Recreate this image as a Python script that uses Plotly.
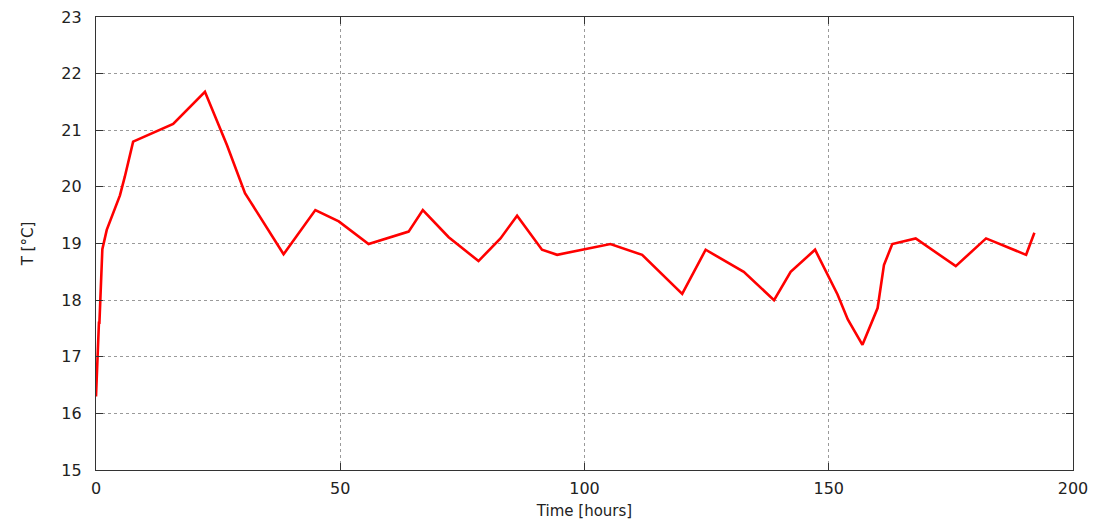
import plotly.graph_objects as go

# Temperature record: elapsed time (hours) and measured temperature (°C)
time_h = [0.0, 0.1, 0.15, 0.4, 0.45, 0.6, 0.7, 0.9, 1.0, 1.15, 1.3, 2.2, 3.5, 4.9, 5.9,
          7.6, 15.8, 22.3, 26.8, 30.5, 31.6, 38.4, 44.9, 49.7, 55.8, 64.0, 66.9,
          72.2, 78.3, 82.8, 86.2, 91.3, 94.4, 105.3, 111.8, 120.0, 124.8, 132.6,
          138.8, 142.2, 147.2, 151.8, 153.9, 156.9, 160.0, 161.3, 163.0, 167.8,
          176.0, 182.2, 190.4, 192.1]
temp_c = [16.3, 16.55, 16.6, 17.1, 17.1, 17.6, 17.6, 18.1, 18.1, 18.6, 18.9, 19.24, 19.54, 19.85, 20.18,
          20.8, 21.11, 21.68, 20.74, 19.89, 19.74, 18.81, 19.59, 19.39, 18.99, 19.21, 19.59,
          19.11, 18.69, 19.09, 19.49, 18.89, 18.8, 18.99, 18.8, 18.11, 18.89, 18.5,
          18.0, 18.5, 18.89, 18.1, 17.66, 17.21, 17.86, 18.62, 18.99, 19.09,
          18.6, 19.09, 18.8, 19.19]

x_ticks = [0, 50, 100, 150, 200]
y_ticks = [15, 16, 17, 18, 19, 20, 21, 22, 23]

FONT = "DejaVu Sans, Verdana, sans-serif"

fig = go.Figure(
    go.Scatter(
        x=time_h, y=temp_c, mode="lines",
        line=dict(color="#ff0000", width=2.6),
        showlegend=False,
    )
)

axis_common = dict(
    showline=True, linecolor="#333333", linewidth=1.2, mirror="ticks",
    ticks="inside", ticklen=7, tickcolor="#333333", tickwidth=1,
    showgrid=True, gridcolor="#9a9a9a", griddash="dot", gridwidth=1,
    zeroline=False, automargin=False,
    tickfont=dict(family=FONT, size=16, color="#222222"),
)

fig.update_xaxes(
    range=[0, 200], tickvals=x_ticks, ticklabelstandoff=4,
    title=dict(text="Time [hours]", standoff=8,
               font=dict(family=FONT, size=15, color="#222222")),
    **axis_common,
)
fig.update_yaxes(
    range=[15, 23], tickvals=y_ticks, ticklabelstandoff=10,
    title=dict(text="T [°C]", standoff=24,
               font=dict(family=FONT, size=15, color="#222222")),
    **axis_common,
)

fig.update_layout(
    width=1101, height=520,
    margin=dict(l=96, r=28, t=17, b=50),
    paper_bgcolor="white", plot_bgcolor="white",
)

fig.write_html("out.html")
